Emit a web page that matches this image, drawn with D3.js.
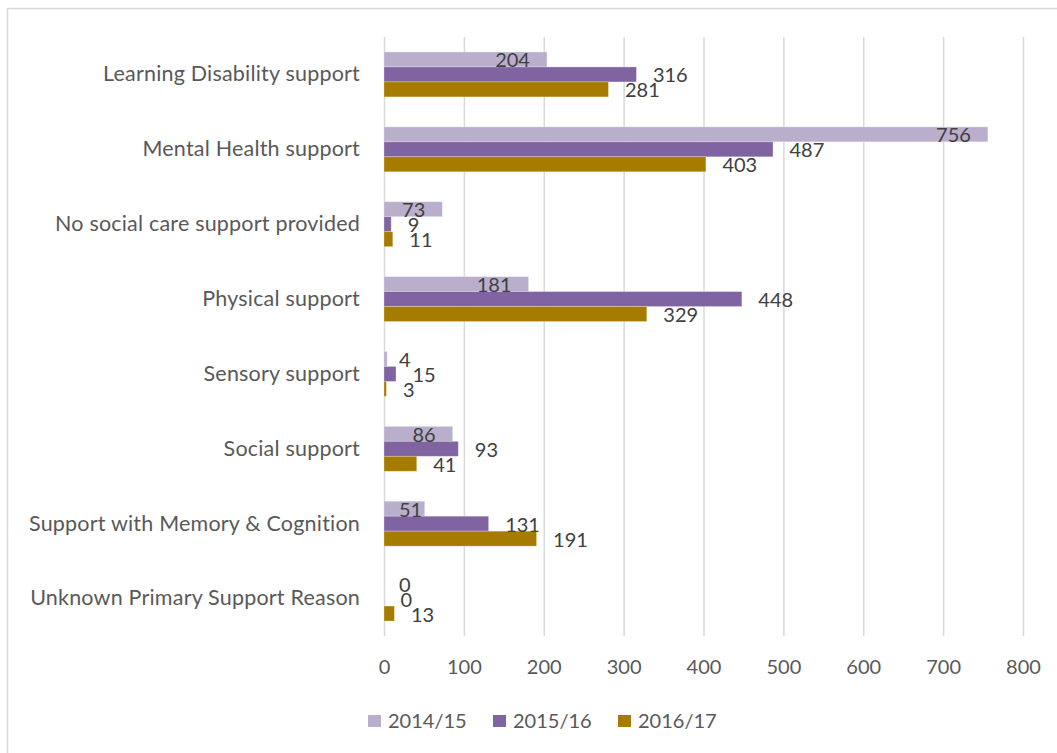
<!DOCTYPE html>
<html>
<head>
<meta charset="utf-8">
<script src="https://cdn.jsdelivr.net/npm/d3@7"></script>
<style>
  html, body { margin: 0; padding: 0; background: #ffffff; }
  svg { display: block; }
  text { font-family: Lato, "Open Sans", sans-serif; }
</style>
</head>
<body>
<svg id="chart" width="1057" height="753"></svg>
<script>
// Primary support reason, counts per year
const categories = [
  "Learning Disability support",
  "Mental Health support",
  "No social care support provided",
  "Physical support",
  "Sensory support",
  "Social support",
  "Support with Memory & Cognition",
  "Unknown Primary Support Reason"
];
const seriesNames = ["2014/15", "2015/16", "2016/17"];
const values2014 = [204, 756, 73, 181, 4, 86, 51, 0];
const values2015 = [316, 487, 9, 448, 15, 93, 131, 0];
const values2016 = [281, 403, 11, 329, 3, 41, 191, 13];
const xTicks = [0, 100, 200, 300, 400, 500, 600, 700, 800];
const colors = ["#B9AFCC", "#8064A2", "#A67C00"];

const seriesValues = [values2014, values2015, values2016];
const rows = categories.map((c, i) => ({
  category: c,
  bars: seriesNames.map((s, j) => ({ series: s, idx: j, value: seriesValues[j][i] }))
}));

const svg = d3.select("#chart");
const plot = { left: 384, right: 1023, top: 37, bottom: 636 };
const fontSize = 20;

// chart frame
svg.append("rect")
  .attr("x", 7.5).attr("y", 8.5)
  .attr("width", 1070).attr("height", 770)
  .attr("fill", "none").attr("stroke", "#D9D9D9").attr("stroke-width", 1.5);

const x = d3.scaleLinear().domain([0, 800]).range([plot.left, plot.right]);
const y = d3.scaleBand().domain(categories).range([plot.top, plot.bottom])
  .paddingInner(0.4).paddingOuter(0.2);
const ySub = d3.scaleBand().domain(seriesNames).range([0, y.bandwidth()]);

// vertical gridlines
const xAxis = d3.axisBottom(x).tickValues(xTicks).tickSize(plot.bottom - plot.top).tickPadding(24);
const gx = svg.append("g").attr("transform", `translate(0,${plot.top})`).call(xAxis);
gx.select(".domain").remove();
gx.selectAll(".tick line").attr("stroke", "#D9D9D9").attr("stroke-width", 1.5);
gx.selectAll(".tick text")
  .attr("fill", "#595959").attr("font-size", fontSize)
  .style("font-family", "Lato, 'Open Sans', sans-serif");

// category labels
const yAxis = d3.axisLeft(y).tickSize(0).tickPadding(24);
const gy = svg.append("g").attr("transform", `translate(${plot.left},0)`).call(yAxis);
gy.select(".domain").remove();
gy.selectAll(".tick text")
  .attr("fill", "#595959").attr("font-size", 21.5)
  .style("letter-spacing", "0.2px")
  .style("font-family", "Lato, 'Open Sans', sans-serif");

// bars
const groups = svg.append("g").selectAll("g.row").data(rows).join("g")
  .attr("class", "row")
  .attr("transform", d => `translate(0,${y(d.category)})`);

groups.selectAll("rect").data(d => d.bars).join("rect")
  .attr("x", x(0))
  .attr("y", d => ySub(d.series))
  .attr("width", d => x(d.value) - x(0))
  .attr("height", ySub.bandwidth())
  .attr("fill", d => colors[d.idx])
  .attr("stroke", "#ffffff").attr("stroke-opacity", 0.35).attr("stroke-width", 0.75);

// value labels
const labels = groups.selectAll("text.val").data(d => d.bars).join("text")
  .attr("class", "val")
  .attr("font-size", fontSize)
  .attr("fill", "#404040")
  .attr("y", d => ySub(d.series) + ySub.bandwidth() / 2)
  .attr("dy", "0.4em")
  .text(d => d.value);

labels.each(function(d) {
  const t = d3.select(this);
  const w = this.getComputedTextLength();
  if (d.idx === 0) {
    // first series: label sits at the inner end of its bar
    const end = Math.max(x(d.value) - 17, x(0) + w + 15);
    t.attr("x", end).attr("text-anchor", "end");
  } else {
    t.attr("x", x(d.value) + 16.5).attr("text-anchor", "start");
  }
});

// legend
const legend = svg.append("g").attr("transform", "translate(368,721)");
const legendX = [0, 125, 250];
const items = legend.selectAll("g").data(seriesNames).join("g")
  .attr("transform", (d, i) => `translate(${legendX[i]},0)`);
items.append("rect").attr("x", 0).attr("y", -6).attr("width", 13).attr("height", 12)
  .attr("fill", (d, i) => colors[i]);
items.append("text").attr("x", 20).attr("dy", "0.36em")
  .attr("font-size", fontSize).attr("fill", "#595959").text(d => d);
</script>
</body>
</html>
